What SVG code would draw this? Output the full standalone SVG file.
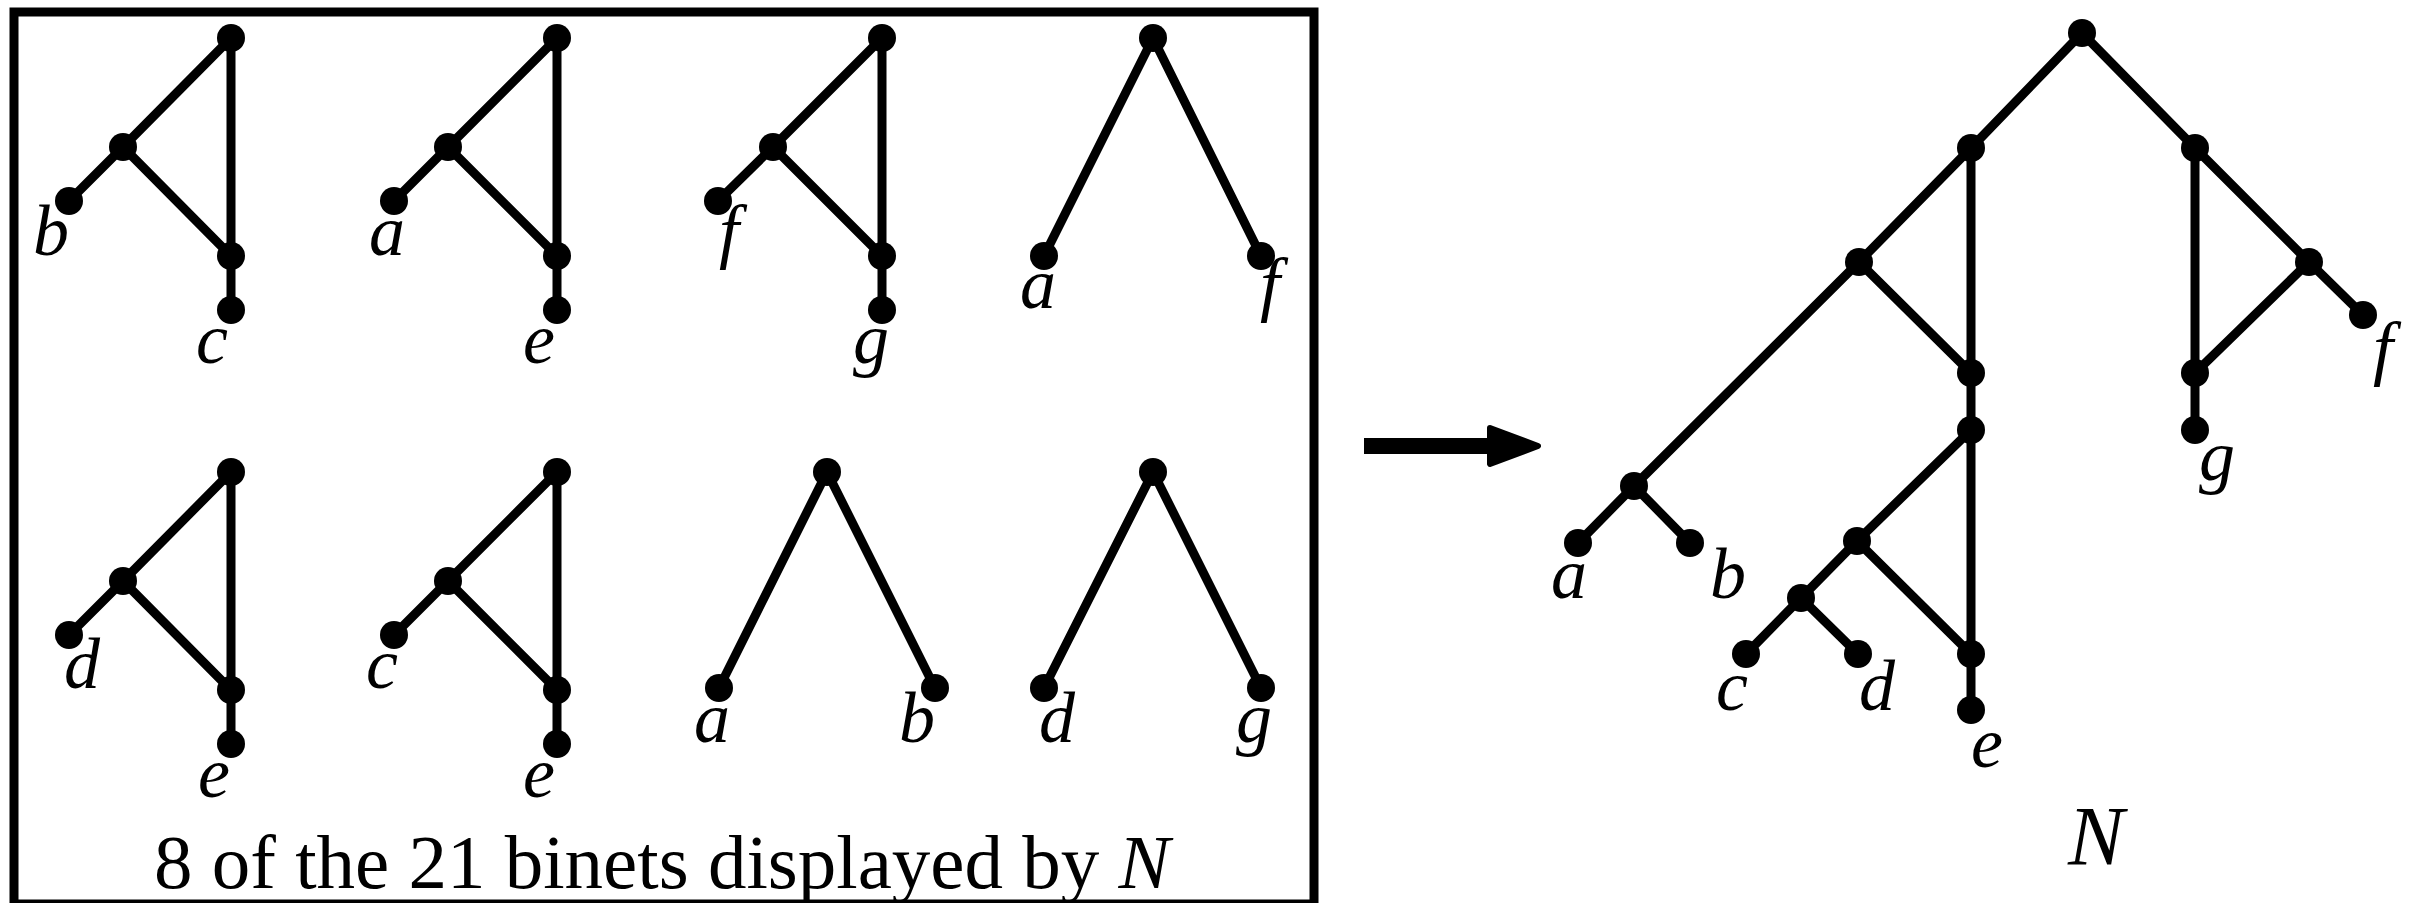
<svg xmlns="http://www.w3.org/2000/svg" width="2410" height="903" viewBox="0 0 2410 903">
<style>
.e{stroke:#000;stroke-width:9;fill:none;stroke-linecap:round}
.n{fill:#000}
.l{font-family:"Liberation Serif",serif;font-style:italic;font-size:72px;fill:#000;text-anchor:middle}
.cap{font-family:"Liberation Serif",serif;font-size:77px;fill:#000}
</style>
<defs>
<circle id="dot" r="14" class="n"/>
</defs>
<rect x="14" y="12" width="1300" height="892" fill="none" stroke="#000" stroke-width="9"/>
<g id="connectors">
<!-- binet 1 -->
<path class="e" d="M231,38 L123,147 L69,201 M123,147 L231,256 M231,38 L231,310"/>
<!-- binet 2 -->
<path class="e" d="M557,38 L448,147 L394,201 M448,147 L557,256 M557,38 L557,310"/>
<!-- binet 3 -->
<path class="e" d="M882,38 L773,147 L718,201 M773,147 L882,256 M882,38 L882,310"/>
<!-- binet 4 -->
<path class="e" d="M1044,256 L1153,38 L1261,256"/>
<!-- binet 5 -->
<path class="e" d="M231,472 L123,581 L69,635 M123,581 L231,690 M231,472 L231,744"/>
<!-- binet 6 -->
<path class="e" d="M557,472 L448,581 L394,635 M448,581 L557,690 M557,472 L557,744"/>
<!-- binet 7 -->
<path class="e" d="M719,688 L827,472 L935,688"/>
<!-- binet 8 -->
<path class="e" d="M1044,688 L1153,472 L1261,688"/>
<!-- network N -->
<path class="e" d="M2082,33 L1971,148 L1859,262 L1634,486 M2082,33 L2195,148 L2309,262 L2363,315 M1971,148 L1971,710 M1859,262 L1971,373 M2195,148 L2195,430 M2309,262 L2195,373 M1634,486 L1578,543 M1634,486 L1690,543 M1971,430 L1857,541 L1801,598 L1746,654 M1801,598 L1858,654 M1857,541 L1971,654"/>
</g>
<g id="arrow">
<rect x="1364" y="438" width="128" height="16" fill="#000"/>
<polygon points="1490,428 1538,446 1490,464" fill="#000" stroke="#000" stroke-width="6" stroke-linejoin="round"/>
</g>
<g id="binet1">
<use href="#dot" x="231" y="38"/><use href="#dot" x="123" y="147"/><use href="#dot" x="69" y="201"/><use href="#dot" x="231" y="256"/><use href="#dot" x="231" y="310"/>
<text class="l" x="51" y="255">b</text><text class="l" x="212" y="363">c</text>
</g>
<g id="binet2">
<use href="#dot" x="557" y="38"/><use href="#dot" x="448" y="147"/><use href="#dot" x="394" y="201"/><use href="#dot" x="557" y="256"/><use href="#dot" x="557" y="310"/>
<text class="l" x="387" y="255">a</text><text class="l" x="539" y="363">e</text>
</g>
<g id="binet3">
<use href="#dot" x="882" y="38"/><use href="#dot" x="773" y="147"/><use href="#dot" x="718" y="201"/><use href="#dot" x="882" y="256"/><use href="#dot" x="882" y="310"/>
<text class="l" x="729" y="255">f</text><text class="l" x="871" y="363">g</text>
</g>
<g id="binet4">
<use href="#dot" x="1153" y="38"/><use href="#dot" x="1044" y="256"/><use href="#dot" x="1261" y="256"/>
<text class="l" x="1038" y="308">a</text><text class="l" x="1270" y="308">f</text>
</g>
<g id="binet5">
<use href="#dot" x="231" y="472"/><use href="#dot" x="123" y="581"/><use href="#dot" x="69" y="635"/><use href="#dot" x="231" y="690"/><use href="#dot" x="231" y="744"/>
<text class="l" x="82" y="688">d</text><text class="l" x="214" y="797">e</text>
</g>
<g id="binet6">
<use href="#dot" x="557" y="472"/><use href="#dot" x="448" y="581"/><use href="#dot" x="394" y="635"/><use href="#dot" x="557" y="690"/><use href="#dot" x="557" y="744"/>
<text class="l" x="382" y="688">c</text><text class="l" x="539" y="797">e</text>
</g>
<g id="binet7">
<use href="#dot" x="827" y="472"/><use href="#dot" x="719" y="688"/><use href="#dot" x="935" y="688"/>
<text class="l" x="712" y="742">a</text><text class="l" x="917" y="742">b</text>
</g>
<g id="binet8">
<use href="#dot" x="1153" y="472"/><use href="#dot" x="1044" y="688"/><use href="#dot" x="1261" y="688"/>
<text class="l" x="1057" y="742">d</text><text class="l" x="1254" y="742">g</text>
</g>
<g id="caption">
<text class="cap" x="154" y="888">8 of the 21 binets displayed by <tspan font-style="italic">N</tspan></text>
</g>
<g id="network">
<use href="#dot" x="2082" y="33"/><use href="#dot" x="1971" y="148"/><use href="#dot" x="2195" y="148"/>
<use href="#dot" x="1859" y="262"/><use href="#dot" x="2309" y="262"/><use href="#dot" x="2363" y="315"/>
<use href="#dot" x="1971" y="373"/><use href="#dot" x="2195" y="373"/><use href="#dot" x="2195" y="430"/>
<use href="#dot" x="1971" y="430"/><use href="#dot" x="1634" y="486"/><use href="#dot" x="1578" y="543"/><use href="#dot" x="1690" y="543"/>
<use href="#dot" x="1857" y="541"/><use href="#dot" x="1801" y="598"/><use href="#dot" x="1746" y="654"/><use href="#dot" x="1858" y="654"/>
<use href="#dot" x="1971" y="654"/><use href="#dot" x="1971" y="710"/>
<text class="l" x="1569" y="598">a</text><text class="l" x="1728" y="598">b</text>
<text class="l" x="1732" y="710">c</text><text class="l" x="1877" y="710">d</text>
<text class="l" x="1987" y="767">e</text><text class="l" x="2383" y="372">f</text>
<text class="l" x="2217" y="480">g</text>
<text class="l" x="2096" y="865" style="font-size:84px">N</text>
</g>
</svg>
